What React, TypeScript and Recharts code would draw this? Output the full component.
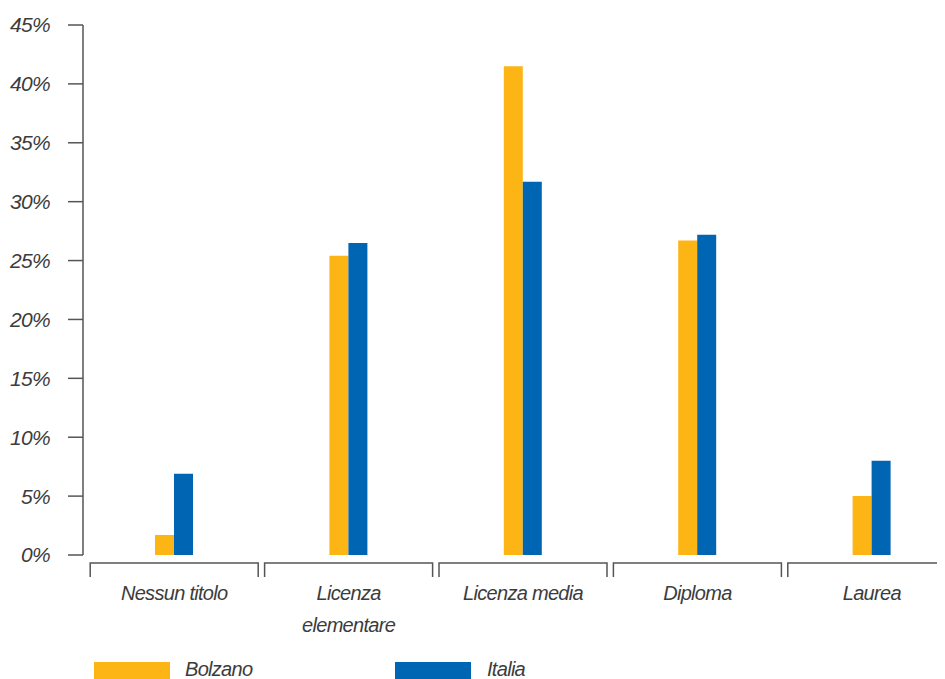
import React from "react";
import { BarChart, Bar, XAxis, YAxis } from "recharts";

const categories = ["Nessun titolo", "Licenza elementare", "Licenza media", "Diploma", "Laurea"];
const bolzano = [1.7, 25.4, 41.5, 26.7, 5.0];
const italia = [6.9, 26.5, 31.7, 27.2, 8.0];
const yTicks = [0, 5, 10, 15, 20, 25, 30, 35, 40, 45];
const seriesNames = ["Bolzano", "Italia"];

const data = categories.map((c, i) => ({ name: c, bolzano: bolzano[i], italia: italia[i] }));

const FONT = "'Liberation Sans Narrow', 'Liberation Sans', Arial, sans-serif";
const TEXT = "#3c3c3c";
const AXIS = "#555555";
const YELLOW = "#FDB515";
const BLUE = "#0066B3";

const wrapLabel = (s: string): string[] => {
  if (s === "Licenza elementare") return ["Licenza", "elementare"];
  return [s];
};

const XTick = (props: any) => {
  const { x, y, payload } = props;
  const half = 84;
  const top = y;
  const lines = wrapLabel(payload.value);
  return (
    <g>
      <path
        d={`M${x - half},${top + 14} L${x - half},${top} L${x + half},${top} L${x + half},${top + 14}`}
        fill="none"
        stroke={AXIS}
        strokeWidth={1.5}
      />
      {lines.map((l, i) => (
        <text
          key={i}
          x={x}
          y={top + 37 + i * 32}
          textAnchor="middle"
          fontFamily={FONT}
          fontStyle="italic"
          fontSize={20}
          letterSpacing={-0.7}
          fill={TEXT}
        >
          {l}
        </text>
      ))}
    </g>
  );
};

export default function App() {
  return (
    <div style={{ position: "relative", width: 937, height: 671, overflow: "hidden" }}>
      <BarChart
        width={960}
        height={671}
        data={data}
        margin={{ top: 17, right: 9, bottom: 44, left: 0 }}
        barGap={0}
      >
        <XAxis
          dataKey="name"
          axisLine={false}
          tickLine={false}
          interval={0}
          height={80}
          padding={{ left: 4, right: 0 }}
          tick={<XTick />}
        />
        <YAxis
          width={75}
          domain={[0, 45]}
          ticks={yTicks}
          interval={0}
          tickFormatter={(v: number) => `${v}%`}
          axisLine={{ stroke: AXIS, strokeWidth: 1.5 }}
          tickLine={{ stroke: AXIS, strokeWidth: 1.5 }}
          tickSize={15}
          tickMargin={18}
          tick={{ fontFamily: FONT, fontStyle: "italic", fontSize: 21, fill: TEXT, letterSpacing: -0.7 }}
        />
        <Bar dataKey="bolzano" name={seriesNames[0]} fill={YELLOW} barSize={19} isAnimationActive={false} />
        <Bar dataKey="italia" name={seriesNames[1]} fill={BLUE} barSize={19} isAnimationActive={false} />
      </BarChart>
      <div style={{ position: "absolute", left: 86, top: 654, fontFamily: FONT, fontStyle: "italic", fontSize: 20, letterSpacing: -0.7, color: TEXT }}>
        <div style={{ position: "absolute", left: 0, top: 0, width: 76, height: 17, background: YELLOW }} />
        <div style={{ position: "absolute", left: 91, top: -3, whiteSpace: "nowrap", lineHeight: "20px" }}>{seriesNames[0]}</div>
        <div style={{ position: "absolute", left: 301, top: 0, width: 76, height: 17, background: BLUE }} />
        <div style={{ position: "absolute", left: 393, top: -3, whiteSpace: "nowrap", lineHeight: "20px" }}>{seriesNames[1]}</div>
      </div>
    </div>
  );
}
